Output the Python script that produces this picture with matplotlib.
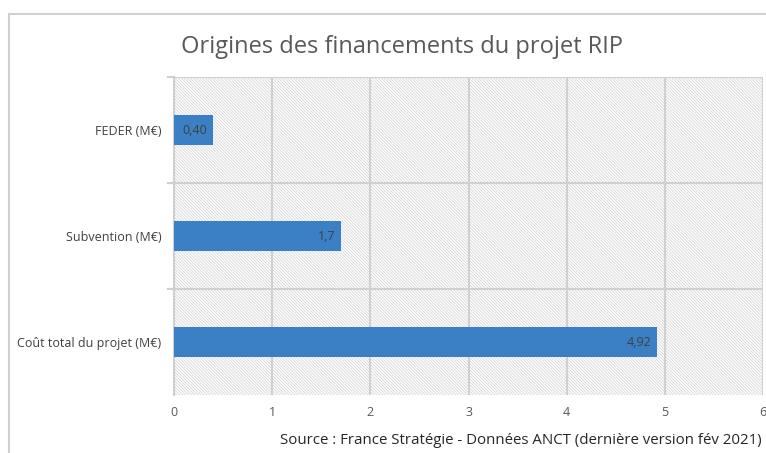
import matplotlib
matplotlib.use("Agg")
import matplotlib.pyplot as plt
from matplotlib.patches import Rectangle

# data
categories = ["Coût total du projet (M€)", "Subvention (M€)", "FEDER (M€)"]
values = [4.92, 1.7, 0.40]
value_labels = ["4,92", "1,7", "0,40"]

plt.rcParams['font.family'] = ['Open Sans', 'DejaVu Sans']
plt.rcParams['hatch.linewidth'] = 0.6

W, H = 766, 453
fig = plt.figure(figsize=(W / 100, H / 100), dpi=100)

# outer chart frame (cut off at right and bottom)
fig.patches.append(Rectangle((9 / W, -0.05), 1.1, 1 - 14 / H + 0.05,
                             transform=fig.transFigure, fill=False,
                             edgecolor='#d0d0d0', linewidth=1.5))

ax = fig.add_axes([174 / W, 1 - 395 / H, (763 - 174) / W, (395 - 77) / H])
ax.add_patch(Rectangle((0, 0), 1, 1, transform=ax.transAxes, facecolor='white',
                       edgecolor='#d6d6d6', linewidth=0, hatch='\\' * 11, zorder=0))
ax.set_facecolor('white')

ypos = range(len(categories))
ax.barh(ypos, values, height=0.28, color='#3b7fc4', zorder=3)
for y, v, lab in zip(ypos, values, value_labels):
    ax.text(v - 0.06, y, lab, ha='right', va='center', fontsize=9,
            color='#404040', zorder=4)

ax.set_xlim(0, 6)
ax.set_ylim(-0.5, 2.5)
ax.set_xticks(range(7))
ax.set_yticks(list(ypos))
ax.set_yticklabels(categories)
ax.set_yticks([0.5, 1.5, 2.5], minor=True)
ax.tick_params(axis='y', which='major', length=0, pad=9, labelsize=9, labelcolor='#404040')
ax.tick_params(axis='y', which='minor', length=5, color='#d0d0d0', width=1.5)
ax.tick_params(axis='x', length=0, pad=8, labelsize=9, labelcolor='#595959')
ax.grid(axis='x', color='#d0d0d0', linewidth=1.5, zorder=1)
ax.grid(axis='y', which='minor', color='#d0d0d0', linewidth=1.5, zorder=1)
ax.set_axisbelow(True)
for s in ['top', 'right']:
    ax.spines[s].set_visible(False)
for s in ['left', 'bottom']:
    ax.spines[s].set_color('#d0d0d0')
    ax.spines[s].set_linewidth(1.5)
ax.spines['bottom'].set_visible(False)
ax.axhline(2.5, color='#d0d0d0', linewidth=1.5, zorder=1)

fig.text(402 / W, 1 - 47 / H, "Origines des financements du projet RIP",
         ha='center', va='center', fontsize=17, color='#595959')
fig.text(762 / W, 1 - 441 / H,
         "Source : France Stratégie - Données ANCT (dernière version fév 2021)",
         ha='right', va='center', fontsize=10.8, color='#262626')

fig.savefig("out.png", dpi=100)
